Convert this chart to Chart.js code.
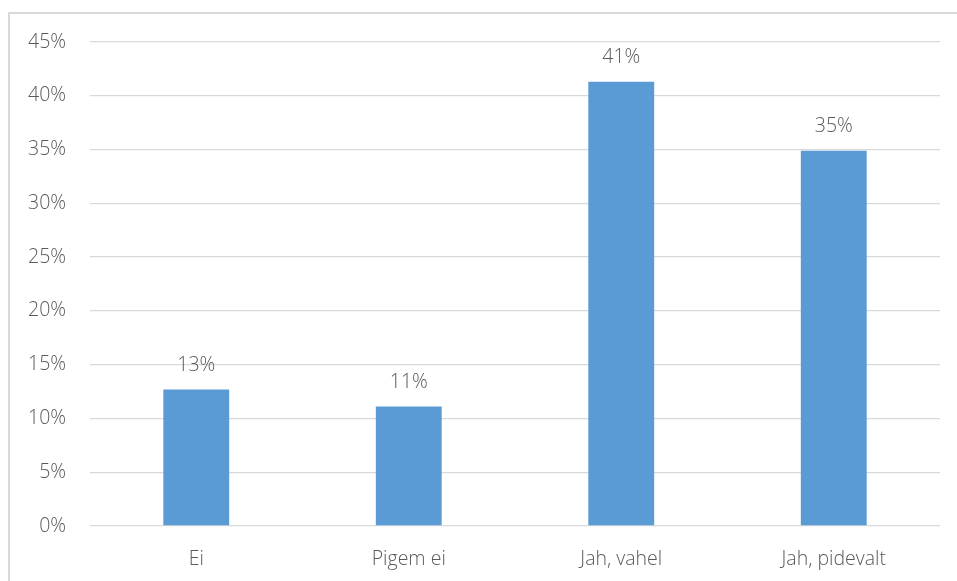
<!DOCTYPE html>
<html>
<head>
<meta charset="utf-8">
<script src="https://cdn.jsdelivr.net/npm/chart.js@4/dist/chart.umd.min.js"></script>
<style>
    body { margin: 0; background: #fff; }
    .frame {
        position: absolute;
        left: 8px;
        top: 12px;
        width: 1000px;
        height: 600px;
        border: 2px solid #d9d9d9;
    }
    #myChart { position: absolute; left: 0; top: 0; }
</style>
</head>
<body>
<div class="frame"></div>
<canvas id="myChart" width="957" height="581"></canvas>
<script>
const kategooriad = ["Ei", "Pigem ei", "Jah, vahel", "Jah, pidevalt"];
const osakaal = [12.7, 11.1, 41.3, 34.9];
const yTicks = [0, 5, 10, 15, 20, 25, 30, 35, 40, 45];

const fontFamily = "'Open Sans', sans-serif";
const textColor = "#595959";

// value labels above each bar
const barLabels = {
    id: "barLabels",
    afterDatasetsDraw(chart) {
        const ctx = chart.ctx;
        const meta = chart.getDatasetMeta(0);
        ctx.save();
        ctx.font = "300 19.5px " + fontFamily;
        ctx.fillStyle = textColor;
        ctx.textAlign = "center";
        ctx.textBaseline = "middle";
        meta.data.forEach((bar, i) => {
            ctx.fillText(Math.round(osakaal[i]) + "%", bar.x, bar.y - 24);
        });
        ctx.restore();
    }
};

const ctx = document.getElementById("myChart").getContext("2d");

new Chart(ctx, {
    type: "bar",
    plugins: [barLabels],
    data: {
        labels: kategooriad,
        datasets: [
            {
                data: osakaal,
                backgroundColor: "#5b9bd5",
                barPercentage: 0.31,
                categoryPercentage: 1
            }
        ]
    },
    options: {
        responsive: false,
        animation: false,
        layout: {
            padding: { top: 42, right: 17, bottom: 0, left: 0 }
        },
        plugins: {
            legend: { display: false },
            tooltip: { enabled: false }
        },
        scales: {
            x: {
                grid: { display: false },
                border: { display: false },
                ticks: {
                    color: textColor,
                    padding: 14,
                    font: { family: fontFamily, size: 19.5, weight: 300 }
                },
                afterFit: (scale) => { scale.height = 55; }
            },
            y: {
                min: 0,
                max: 45,
                afterBuildTicks: (scale) => {
                    scale.ticks = yTicks.map(v => ({ value: v }));
                },
                grid: {
                    color: "#d9d9d9",
                    lineWidth: 1.3,
                    drawTicks: false
                },
                border: { display: false },
                ticks: {
                    color: textColor,
                    padding: 24,
                    font: { family: fontFamily, size: 19.5, weight: 300 },
                    callback: (v) => v + "%"
                },
                afterFit: (scale) => { scale.width = 90; }
            }
        }
    }
});
</script>
</body>
</html>
